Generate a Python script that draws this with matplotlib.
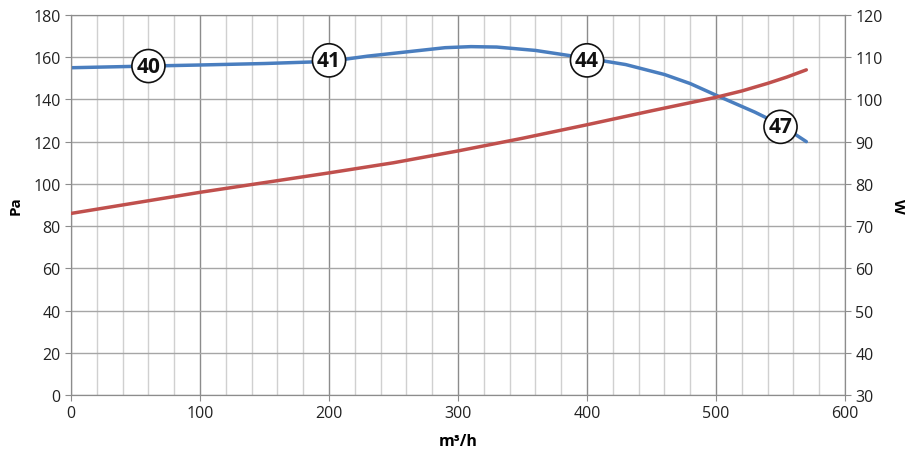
import matplotlib.pyplot as plt
from matplotlib.ticker import MultipleLocator

plt.rcParams['font.family'] = ['Open Sans', 'DejaVu Sans']

# pressure curve (Pa)
flow_pa = [0, 60, 100, 150, 200, 230, 260, 290, 310, 330, 360, 400, 430, 460, 480, 500, 515, 530, 545, 560, 570]
pressure = [155, 155.8, 156.3, 157, 158, 160.5, 162.5, 164.5, 165, 164.8, 163.2, 159.5, 156.5, 151.8, 147.5, 142, 138, 134, 129.5, 124, 120]

# power curve (W)
flow_w = [0, 100, 200, 250, 300, 350, 400, 450, 500, 520, 540, 555, 570]
power = [73, 78, 82.6, 85, 87.8, 90.8, 94, 97.3, 100.5, 102, 103.8, 105.3, 107]

# marker labels
lab_x = [60, 200, 400, 550]
lab_y = [155.8, 158.5, 158.5, 127]
lab_txt = ["40", "41", "44", "47"]

fig = plt.figure(figsize=(9.06, 4.56), dpi=100)
ax = fig.add_axes([0.0784, 0.1316, 0.8543, 0.8334])

ax.set_xlim(0, 600)
ax.set_ylim(0, 180)
ax.xaxis.set_major_locator(MultipleLocator(100))
ax.xaxis.set_minor_locator(MultipleLocator(20))
ax.yaxis.set_major_locator(MultipleLocator(20))
ax.grid(which='minor', axis='x', color='#d0d0d0', lw=1)
ax.grid(which='major', axis='x', color='#8c8c8c', lw=1)
ax.grid(which='major', axis='y', color='#a6a6a6', lw=1)
ax.set_axisbelow(True)
for s in ax.spines.values():
    s.set_color('#8c8c8c')
ax.tick_params(which='both', color='#8c8c8c', labelsize=11.5, length=4, colors='#222222')
ax.tick_params(which='minor', length=0)

ax2 = ax.twinx()
ax2.set_ylim(30, 120)
ax2.yaxis.set_major_locator(MultipleLocator(10))
ax2.tick_params(color='#8c8c8c', labelsize=11.5, length=4, colors='#222222')
for s in ax2.spines.values():
    s.set_color('#8c8c8c')

ax.plot(flow_pa, pressure, color='#4a7ebf', lw=2.5, zorder=3, solid_capstyle='round', solid_joinstyle='round')
ax2.plot(flow_w, power, color='#c0504d', lw=2.5, zorder=3, solid_capstyle='round', solid_joinstyle='round')

for x, y, t in zip(lab_x, lab_y, lab_txt):
    ax.text(x, y, t, ha='center', va='center', fontsize=15, fontweight='bold', color='#111111',
            zorder=5, bbox=dict(boxstyle='circle,pad=0.22', fc='white', ec='#111111', lw=1.2))

ax.set_xlabel('m³/h', fontsize=11.5, fontweight='bold', labelpad=8)
ax.set_ylabel('Pa', fontsize=11, fontweight='bold', labelpad=8)
ax2.set_ylabel('W', fontsize=11, fontweight='bold', rotation=270, labelpad=16)

fig.savefig('out.png', dpi=100)
